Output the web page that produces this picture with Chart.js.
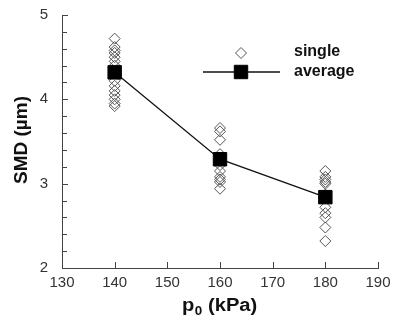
<!DOCTYPE html>
<html lang="en">
<head>
  <meta charset="UTF-8" />
  <title>SMD vs p0</title>
  <script src="https://cdn.jsdelivr.net/npm/chart.js"></script>
  <style>
    html, body {
      margin: 0;
      padding: 0;
      background: #fff;
    }
    #wrap {
      width: 393px;
      height: 322px;
    }
  </style>
</head>
<body>
  <div id="wrap"><canvas id="smdChart" width="393" height="322"></canvas></div>

  <script>
    // pressure levels (kPa)
    const pressures = [140, 160, 180];

    // single measurements of SMD (um) at each pressure
    const single140 = [4.72, 4.62, 4.58, 4.55, 4.50, 4.45, 4.40, 4.22, 4.16, 4.10, 4.05, 4.00, 3.95, 3.92];
    const single160 = [3.66, 3.62, 3.52, 3.35, 3.22, 3.15, 3.08, 3.05, 3.02, 2.94];
    const single180 = [3.15, 3.08, 3.05, 3.02, 3.00, 2.87, 2.72, 2.65, 2.60, 2.48, 2.32];

    // averaged SMD
    const averageSMD = [4.32, 3.29, 2.84];

    const xTicks = [130, 140, 150, 160, 170, 180, 190];
    const yTicks = [2, 3, 4, 5];

    const FONT = "'Liberation Sans', Arial, sans-serif";

    const singlePoints = [];
    [single140, single160, single180].forEach((vals, i) => {
      vals.forEach(v => singlePoints.push({ x: pressures[i], y: v }));
    });
    const avgPoints = pressures.map((p, i) => ({ x: p, y: averageSMD[i] }));

    // inward tick marks, axis titles and legend
    const decorations = {
      id: 'decorations',
      afterDraw(chart) {
        const ctx = chart.ctx;
        const area = chart.chartArea;
        const xs = chart.scales.x;
        const ys = chart.scales.y;
        ctx.save();
        ctx.strokeStyle = '#444';
        ctx.lineWidth = 1;

        // y ticks, major every 1, minor every 0.2
        for (let k = 0; k <= 15; k++) {
          const v = 2 + k * 0.2;
          const py = Math.round(ys.getPixelForValue(v)) + 0.5;
          const len = (k % 5 === 0) ? 6 : 5;
          ctx.beginPath();
          ctx.moveTo(area.left, py);
          ctx.lineTo(area.left + len, py);
          ctx.stroke();
        }
        // x ticks
        xTicks.forEach(v => {
          const px = Math.round(xs.getPixelForValue(v)) + 0.5;
          ctx.beginPath();
          ctx.moveTo(px, area.bottom);
          ctx.lineTo(px, area.bottom - 6);
          ctx.stroke();
        });

        // y title
        ctx.fillStyle = '#111';
        ctx.font = 'bold 19px ' + FONT;
        ctx.textAlign = 'center';
        ctx.textBaseline = 'middle';
        ctx.save();
        ctx.translate(22, 140);
        ctx.rotate(-Math.PI / 2);
        ctx.fillText('SMD (\u00b5m)', 0, 0);
        ctx.restore();

        // x title with subscript
        ctx.save();
        ctx.translate(182, 311);
        ctx.scale(1.12, 1);
        ctx.textAlign = 'left';
        ctx.textBaseline = 'alphabetic';
        let x0 = 0;
        ctx.font = 'bold 18px ' + FONT;
        ctx.fillText('p', x0, 0);
        x0 += ctx.measureText('p').width + 0.5;
        ctx.font = 'bold 12px ' + FONT;
        ctx.fillText('0', x0, 4);
        x0 += ctx.measureText('0').width;
        ctx.font = 'bold 18px ' + FONT;
        ctx.fillText(' (kPa)', x0, 0);
        ctx.restore();

        // legend
        const ds0 = chart.data.datasets[0];
        const ds1 = chart.data.datasets[1];
        ctx.fillStyle = ds0.backgroundColor;
        ctx.strokeStyle = ds0.borderColor;
        ctx.lineWidth = ds0.borderWidth;
        Chart.helpers.drawPoint(ctx, {
          pointStyle: ds0.pointStyle, radius: ds0.pointRadius,
          borderWidth: ds0.borderWidth, rotation: 0
        }, 241, 53);

        ctx.beginPath();
        ctx.strokeStyle = ds1.borderColor;
        ctx.lineWidth = ds1.borderWidth;
        ctx.moveTo(203, 72);
        ctx.lineTo(280, 72);
        ctx.stroke();
        ctx.fillStyle = ds1.pointBackgroundColor;
        ctx.strokeStyle = ds1.pointBorderColor;
        ctx.lineWidth = 1;
        Chart.helpers.drawPoint(ctx, {
          pointStyle: ds1.pointStyle, radius: ds1.pointRadius,
          borderWidth: 1, rotation: 0
        }, 241, 72);

        ctx.fillStyle = '#111';
        ctx.font = 'bold 16px ' + FONT;
        ctx.textAlign = 'left';
        ctx.textBaseline = 'middle';
        ctx.fillText('single', 294, 52);
        ctx.fillText('average', 294, 72);
        ctx.restore();
      }
    };

    new Chart(document.getElementById('smdChart'), {
      type: 'scatter',
      data: {
        datasets: [
          {
            label: 'single',
            data: singlePoints,
            pointStyle: 'rectRot',
            pointRadius: 5.5,
            pointHoverRadius: 5.5,
            borderColor: '#555',
            backgroundColor: 'rgba(0,0,0,0)',
            borderWidth: 1,
            order: 2
          },
          {
            label: 'average',
            data: avgPoints,
            showLine: true,
            borderColor: '#111',
            borderWidth: 1.3,
            pointStyle: 'rect',
            pointRadius: 9.5,
            pointHoverRadius: 9.5,
            pointBackgroundColor: '#000',
            pointBorderColor: '#000',
            pointBorderWidth: 1,
            order: 1
          }
        ]
      },
      options: {
        responsive: false,
        animation: false,
        events: [],
        layout: { padding: { top: 15, right: 15, left: 0, bottom: 0 } },
        plugins: {
          legend: { display: false },
          tooltip: { enabled: false }
        },
        scales: {
          x: {
            type: 'linear',
            min: 130,
            max: 190,
            afterBuildTicks: s => { s.ticks = xTicks.map(v => ({ value: v })); },
            afterFit: s => {
              s.height = 54;
              s.paddingLeft = 0;
              s.paddingRight = 0;
            },
            grid: { display: false, drawTicks: false },
            border: { display: true, color: '#444', width: 1 },
            ticks: {
              padding: 6,
              autoSkip: false,
              maxRotation: 0,
              color: '#333',
              font: { family: FONT, size: 15 }
            }
          },
          y: {
            min: 2,
            max: 5,
            afterBuildTicks: s => { s.ticks = yTicks.map(v => ({ value: v })); },
            afterFit: s => {
              s.width = 62;
              s.paddingTop = 0;
              s.paddingBottom = 0;
            },
            grid: { display: false, drawTicks: false },
            border: { display: true, color: '#444', width: 1 },
            ticks: {
              padding: 14,
              color: '#333',
              font: { family: FONT, size: 15 }
            }
          }
        }
      },
      plugins: [decorations]
    });
  </script>
</body>
</html>
